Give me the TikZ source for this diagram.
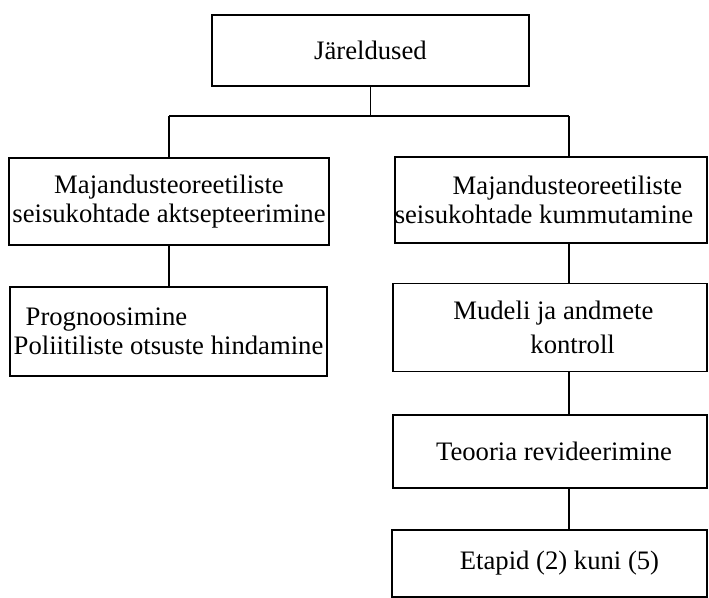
\documentclass[tikz,border=0pt]{standalone}
\usepackage{fontspec}
\setmainfont{Liberation Serif}
\begin{document}
\begin{tikzpicture}[x=0.75pt,y=-0.75pt,
  box/.style={draw, line width=1.2pt, inner sep=0pt, align=center,
    font=\fontsize{20pt}{22pt}\selectfont},
  link/.style={line width=1.2pt}]
\useasboundingbox (0,0) rectangle (709,598);

% boxes (sizes in px units)
\node[box, minimum width=237.75pt, minimum height=53.25pt] (top) at (370.5,50.5) {Järeldused};
\node[box, minimum width=240pt, minimum height=65.25pt] (l1) at (169,201.5)
  {Majandusteoreetiliste\\seisukohtade aktsepteerimine};
\node[box, minimum width=237.75pt, minimum height=66.75pt, align=left] (l2) at (168.5,331.5)
  {\hspace*{9pt}Prognoosimine\\Poliitiliste otsuste hindamine};
\node[box, minimum width=234pt, minimum height=64.5pt] (r1) at (551,200)
  {\hspace*{24.75pt}Majandusteoreetiliste\\seisukohtade kummutamine\hspace*{10.5pt}};
\node[box, minimum width=235.5pt, minimum height=66pt,
  font=\fontsize{20pt}{25pt}\selectfont] (r2) at (550,327.5)
  {\hspace*{5pt}Mudeli ja andmete\\\hspace*{34pt}kontroll};
\node[box, minimum width=235.5pt, minimum height=54.75pt] (r3) at (550,451.5)
  {\hspace*{6pt}Teooria revideerimine};
\node[box, minimum width=236.25pt, minimum height=50.25pt] (r4) at (549.5,563.5)
  {\hspace*{15pt}Etapid (2) kuni (5)};

% connector routing points
\coordinate (hub) at (370,116);
\coordinate (rx) at (569,0);

\draw[link] (top.south) -- (top.south |- hub);
\draw[link] (l1.north |- hub) -- (rx |- hub);
\draw[link] (l1.north |- hub) -- (l1.north);
\draw[link] (rx |- hub) -- (rx |- r1.north);
\draw[link] (l1.south) -- (l1.south |- l2.north);
\draw[link] (rx |- r1.south) -- (rx |- r2.north);
\draw[link] (rx |- r2.south) -- (rx |- r3.north);
\draw[link] (rx |- r3.south) -- (rx |- r4.north);
\end{tikzpicture}
\end{document}
